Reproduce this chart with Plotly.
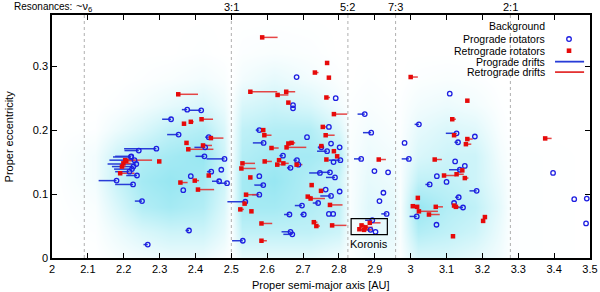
import plotly.graph_objects as go

# ---------------- data ----------------
# Resonances
res_names = ["~ν<sub>6</sub>", "3:1", "5:2", "7:3", "2:1"]
res_a = [2.09, 2.50, 2.825, 2.958, 3.278]

# Prograde rotators: proper a, proper e, drift length (AU, line extends to smaller a)
pro_a = [2.291, 2.242, 2.221, 2.220, 2.230, 2.235, 2.227, 2.223, 2.216, 2.237, 2.180, 2.226,
         2.251, 2.267, 2.366, 2.382, 2.377, 2.416, 2.332, 2.353, 2.437, 2.427, 2.425, 2.387,
         2.444, 2.472, 2.466, 2.488, 2.481,
         2.682, 2.672, 2.672, 2.772, 2.578, 2.711, 2.590, 2.751, 2.767, 2.683, 2.687, 2.665,
         2.578, 2.589, 2.747, 2.578, 2.539, 2.697, 2.742, 2.662, 2.702, 2.665, 2.670, 2.532,
         2.791, 2.778, 2.802, 2.804, 2.775, 2.789, 2.802, 2.763, 2.778, 2.772, 2.784, 2.644,
         2.785,
         2.872, 2.890, 2.862, 2.899, 2.937, 2.924, 2.913, 2.933, 2.893, 2.888, 2.902,
         2.983, 3.023, 3.109, 3.128, 3.179, 3.132, 2.995, 3.124, 3.151, 3.137, 3.073, 3.100,
         3.053, 3.184, 3.134, 3.017, 3.146, 3.072, 3.121,
         3.397, 3.456, 3.491, 3.489]
pro_e = [0.171, 0.168, 0.159, 0.158, 0.153, 0.147, 0.143, 0.139, 0.135, 0.129, 0.121, 0.115,
         0.089, 0.021, 0.106, 0.043, 0.232, 0.231, 0.217, 0.193, 0.189, 0.173, 0.159, 0.128,
         0.135, 0.138, 0.120, 0.117, 0.155,
         0.283, 0.239, 0.234, 0.205, 0.200, 0.189, 0.180, 0.173, 0.167, 0.153, 0.146, 0.141,
         0.128, 0.114, 0.133, 0.099, 0.088, 0.082, 0.086, 0.068, 0.068, 0.041, 0.037, 0.027,
         0.250, 0.179, 0.173, 0.153, 0.134, 0.126, 0.104, 0.107, 0.097, 0.069, 0.069, 0.160,
         0.150,
         0.225, 0.196, 0.155, 0.136, 0.134, 0.102, 0.089, 0.069, 0.059, 0.044, 0.041,
         0.180, 0.209, 0.257, 0.195, 0.190, 0.181, 0.155, 0.151, 0.144, 0.138, 0.128, 0.119,
         0.115, 0.105, 0.095, 0.065, 0.079, 0.052, 0.086,
         0.133, 0.092, 0.093, 0.054]
pro_drift = [0.090, 0.040, 0.045, 0.050, 0.070, 0.080, 0.060, 0.050, 0.040, 0.030, 0.050, 0.050,
             0.020, 0.012, 0.000, 0.010, 0.015, 0.035, 0.025, 0.032, 0.010, 0.030, 0.025, 0.000,
             0.012, 0.000, 0.020, 0.025, 0.050,
             0.000, 0.000, 0.000, 0.000, 0.010, 0.000, 0.030, 0.010, 0.028, 0.010, 0.000, 0.010,
             0.000, 0.025, 0.030, 0.020, 0.050, 0.020, 0.015, 0.015, 0.010, 0.025, 0.025, 0.030,
             0.000, 0.000, 0.000, 0.033, 0.030, 0.025, 0.000, 0.000, 0.030, 0.000, 0.000, 0.010,
             0.000,
             0.020, 0.023, 0.020, 0.000, 0.000, 0.000, 0.000, 0.015, 0.020, 0.035, 0.000,
             0.000, 0.012, 0.000, 0.030, 0.000, 0.010, 0.020, 0.000, 0.000, 0.030, 0.000, 0.000,
             0.012, 0.020, 0.010, 0.020, 0.015, 0.000, 0.000,
             0.000, 0.000, 0.000, 0.000]

# Retrograde rotators: proper a, proper e, drift length (AU, line extends to larger a)
ret_a = [2.199, 2.204, 2.207, 2.195, 2.190, 2.299, 2.358, 2.352, 2.368, 2.387, 2.417, 2.443,
         2.421, 2.375, 2.380, 2.398, 2.407, 2.437,
         2.586, 2.767, 2.733, 2.772, 2.553, 2.653, 2.629, 2.765, 2.659, 2.786, 2.755, 2.589,
         2.592, 2.763, 2.751, 2.612, 2.654, 2.659, 2.668, 2.531, 2.528, 2.593, 2.633, 2.645,
         2.628, 2.682, 2.765, 2.553, 2.724, 2.541, 2.537, 2.525, 2.556, 2.713, 2.721, 2.750,
         2.775, 2.730, 2.737, 2.781, 2.584, 2.584, 2.786, 2.795,
         2.911, 2.857, 2.863, 2.874, 2.886, 2.870,
         3.000, 3.158, 3.116, 3.121, 3.158, 3.154, 3.067, 3.144, 3.128, 3.093, 3.151, 3.020,
         3.006, 3.018, 3.023, 3.070, 3.121, 3.126, 3.051, 3.207, 3.202, 3.118, 3.375]
ret_e = [0.148, 0.153, 0.152, 0.143, 0.1325, 0.151, 0.118, 0.256, 0.210, 0.213, 0.217, 0.1875,
         0.176, 0.180, 0.170, 0.121, 0.107, 0.129,
         0.345, 0.305, 0.290, 0.282, 0.260, 0.260, 0.255, 0.251, 0.243, 0.225, 0.205, 0.200,
         0.192, 0.192, 0.175, 0.172, 0.173, 0.179, 0.180, 0.148, 0.140, 0.151, 0.153, 0.148,
         0.146, 0.146, 0.154, 0.126, 0.114, 0.099, 0.085, 0.076, 0.073, 0.096, 0.093, 0.105,
         0.083, 0.056, 0.050, 0.051, 0.054, 0.027, 0.167, 0.159,
         0.154, 0.045, 0.051, 0.048, 0.055, 0.044,
         0.283, 0.246, 0.217, 0.192, 0.186, 0.178, 0.154, 0.137, 0.131, 0.129, 0.125, 0.094,
         0.081, 0.080, 0.073, 0.080, 0.082, 0.080, 0.068, 0.064, 0.058, 0.034, 0.187]
ret_drift = [0.020, 0.075, 0.020, 0.010, 0.040, 0.005, 0.020, 0.055, 0.000, 0.008, 0.032, 0.035,
             0.025, 0.000, 0.070, 0.012, 0.045, 0.000,
             0.043, 0.000, 0.010, 0.000, 0.075, 0.025, 0.030, 0.010, 0.005, 0.037, 0.010, 0.000,
             0.020, 0.025, 0.000, 0.020, 0.055, 0.000, 0.010, 0.035, 0.040, 0.020, 0.000, 0.015,
             0.010, 0.016, 0.000, 0.000, 0.000, 0.035, 0.000, 0.010, 0.000, 0.010, 0.040, 0.000,
             0.035, 0.010, 0.010, 0.040, 0.030, 0.015, 0.000, 0.000,
             0.020, 0.000, 0.010, 0.020, 0.030, 0.025,
             0.020, 0.000, 0.010, 0.000, 0.015, 0.015, 0.020, 0.000, 0.020, 0.033, 0.010, 0.000,
             0.000, 0.000, 0.053, 0.020, 0.000, 0.010, 0.030, 0.000, 0.000, 0.000, 0.018]

# Background asteroid density (relative, read from the cloud)
bg_a = [2.00, 2.12, 2.18, 2.25, 2.33, 2.42, 2.48, 2.50, 2.53, 2.62, 2.72, 2.80, 2.83, 2.88,
        2.95, 2.97, 3.02, 3.10, 3.18, 3.25, 3.28, 3.50]
bg_e = [0.00, 0.04, 0.08, 0.12, 0.16, 0.20, 0.24, 0.28, 0.32, 0.38]
bg_d00 = [0, 0, 0.5, 1, 1.5, 1.5, 0.5, 0.2, 2, 2, 2, 1, 0.3, 1, 1, 0.3, 3, 3, 2, 1, 0.2, 0]
bg_d04 = [0, 0.2, 1.5, 3, 4, 4, 2, 0.3, 5, 5, 5, 4, 0.5, 2, 2, 0.5, 6, 5, 4, 1.5, 0.2, 0]
bg_d08 = [0, 0.5, 3, 6, 7, 6, 3, 0.5, 7, 7, 6, 5, 0.5, 2.5, 2, 0.5, 8, 6, 5, 2, 0.2, 0]
bg_d12 = [0, 1, 4.5, 7, 8, 7, 4, 0.5, 7, 8, 6, 4, 0.5, 2, 1.5, 0.5, 5, 5, 4, 1.5, 0.2, 0]
bg_d16 = [0, 1, 4, 6, 7, 8, 4, 0.5, 6, 7, 7, 6, 0.5, 1.5, 1, 0.5, 3, 4, 4, 1, 0.2, 0]
bg_d20 = [0, 0.2, 1.5, 3, 5, 6, 3, 0.3, 5, 6, 6, 3, 0.3, 1, 0.5, 0.3, 2, 3, 2.5, 0.5, 0, 0]
bg_d24 = [0, 0, 0.3, 1, 2, 3, 1.5, 0.2, 3, 4, 3, 1, 0.2, 0.5, 0.2, 0.2, 1, 1.5, 1, 0.2, 0, 0]
bg_d28 = [0, 0, 0, 0.2, 0.5, 1, 0.5, 0, 1, 2, 1, 0.3, 0, 0.2, 0, 0, 0.3, 0.5, 0.3, 0, 0, 0]
bg_d32 = [0, 0, 0, 0, 0, 0.2, 0, 0, 0.3, 0.5, 0.3, 0, 0, 0, 0, 0, 0, 0, 0, 0, 0, 0]
bg_d38 = [0] * 22

x_ticks = [2.0, 2.1, 2.2, 2.3, 2.4, 2.5, 2.6, 2.7, 2.8, 2.9, 3.0, 3.1, 3.2, 3.3, 3.4, 3.5]
x_ticktext = ["2", "2.1", "2.2", "2.3", "2.4", "2.5", "2.6", "2.7", "2.8", "2.9", "3", "3.1",
              "3.2", "3.3", "3.4", "3.5"]
y_ticks = [0, 0.1, 0.2, 0.3]
y_ticktext = ["0", "0.1", "0.2", "0.3"]

koronis_box = dict(a0=2.834, a1=2.935, e0=0.0366, e1=0.0616)

# ---------------- styles ----------------
FONT = "Liberation Sans, Arial, Helvetica, sans-serif"
BLUE_M = "rgb(30,30,225)"
RED_M = "rgb(230,10,10)"
BLUE_L = "rgb(40,60,215)"
RED_L = "rgb(228,50,50)"

fig = go.Figure()

bg_z = [bg_d00, bg_d04, bg_d08, bg_d12, bg_d16, bg_d20, bg_d24, bg_d28, bg_d32, bg_d38]
fig.add_trace(go.Heatmap(
    x=bg_a, y=bg_e, z=bg_z, zmin=0, zmax=10, zsmooth="best", showscale=False,
    colorscale=[[0, "rgb(255,255,255)"], [0.4, "rgb(205,244,249)"], [1, "rgb(125,224,238)"]],
    hoverinfo="skip"))

# resonance lines
for a in res_a:
    fig.add_trace(go.Scatter(x=[a, a], y=[0, 0.38], mode="lines",
                             line=dict(color="rgb(175,175,175)", width=1, dash="dot"),
                             hoverinfo="skip", showlegend=False))

# drift lines
px, py = [], []
for a, e, d in zip(pro_a, pro_e, pro_drift):
    if d > 0:
        px += [a - d, a, None]
        py += [e, e, None]
rx, ry = [], []
for a, e, d in zip(ret_a, ret_e, ret_drift):
    if d > 0:
        rx += [a, a + d, None]
        ry += [e, e, None]
fig.add_trace(go.Scatter(x=px, y=py, mode="lines", line=dict(color=BLUE_L, width=1.5),
                         showlegend=False, hoverinfo="skip"))
fig.add_trace(go.Scatter(x=rx, y=ry, mode="lines", line=dict(color=RED_L, width=1.5),
                         opacity=0.9, showlegend=False, hoverinfo="skip"))

fig.add_trace(go.Scatter(x=pro_a, y=pro_e, mode="markers",
                         marker=dict(symbol="circle-open", size=4.5, color=BLUE_M,
                                     line=dict(width=1.3, color=BLUE_M)),
                         showlegend=False))
fig.add_trace(go.Scatter(x=ret_a, y=ret_e, mode="markers",
                         marker=dict(symbol="square", size=4.5, color=RED_M, line=dict(width=0)),
                         showlegend=False))

annotations = []
shapes = []

# Resonance labels
annotations.append(dict(text="Resonances:", xref="paper", yref="paper", x=-0.075, y=1.033,
                        xanchor="left", yanchor="middle", showarrow=False,
                        font=dict(size=10, family=FONT, color="black")))
for name, a in zip(res_names, res_a):
    annotations.append(dict(text=name, xref="x", yref="paper", x=a, y=1.033,
                            xanchor="center", yanchor="middle", showarrow=False,
                            font=dict(size=11, family=FONT, color="black")))

# Axis titles
annotations.append(dict(text="Proper semi-major axis [AU]", xref="paper", yref="paper",
                        x=0.5, y=-0.112, xanchor="center", yanchor="middle", showarrow=False,
                        font=dict(size=11, family=FONT, color="black")))
annotations.append(dict(text="Proper eccentricity", xref="paper", yref="paper",
                        x=-0.08, y=0.5, xanchor="center", yanchor="middle", textangle=-90,
                        showarrow=False, font=dict(size=11, family=FONT, color="black")))

# Koronis
shapes.append(dict(type="rect", xref="x", yref="y", x0=koronis_box["a0"], x1=koronis_box["a1"],
                   y0=koronis_box["e0"], y1=koronis_box["e1"],
                   line=dict(color="black", width=1.2), layer="above"))
annotations.append(dict(text="Koronis", xref="x", yref="y",
                        x=(koronis_box["a0"] + koronis_box["a1"]) / 2, y=0.022,
                        showarrow=False, font=dict(size=11, family=FONT, color="black")))

# Custom gnuplot-style legend
leg_labels = ["Background", "Prograde rotators", "Retrograde rotators", "Prograde drifts",
              "Retrograde drifts"]
leg_y = [0.955, 0.901, 0.853, 0.808, 0.765]
for lab, yy in zip(leg_labels, leg_y):
    annotations.append(dict(text=lab, xref="paper", yref="paper", x=0.921, y=yy,
                            xanchor="right", yanchor="middle", showarrow=False,
                            font=dict(size=10.5, family=FONT, color="black")))
shapes.append(dict(type="circle", xref="paper", yref="paper", xsizemode="pixel",
                   ysizemode="pixel", xanchor=0.961, yanchor=leg_y[1],
                   x0=-2.3, x1=2.3, y0=-2.3, y1=2.3, line=dict(color=BLUE_M, width=1.3)))
shapes.append(dict(type="rect", xref="paper", yref="paper", xsizemode="pixel",
                   ysizemode="pixel", xanchor=0.961, yanchor=leg_y[2],
                   x0=-2.3, x1=2.3, y0=-2.3, y1=2.3, fillcolor=RED_M, line=dict(width=0)))
shapes.append(dict(type="line", xref="paper", yref="paper", x0=0.935, x1=0.989,
                   y0=leg_y[3], y1=leg_y[3], line=dict(color=BLUE_L, width=1.8)))
shapes.append(dict(type="line", xref="paper", yref="paper", x0=0.935, x1=0.989,
                   y0=leg_y[4], y1=leg_y[4], line=dict(color=RED_L, width=1.8)))

axis_common = dict(showline=True, linecolor="black", linewidth=1.5, mirror="allticks",
                   ticks="inside", ticklen=5, tickwidth=1, tickcolor="black",
                   showgrid=False, zeroline=False, automargin=False,
                   tickfont=dict(size=11, family=FONT, color="black"))

fig.update_layout(
    width=600, height=292,
    margin=dict(l=52, r=10, t=15, b=34, autoexpand=False),
    paper_bgcolor="white", plot_bgcolor="white",
    showlegend=False,
    font=dict(family=FONT, size=11, color="black"),
    xaxis=dict(range=[2, 3.5], tickvals=x_ticks, ticktext=x_ticktext, **axis_common),
    yaxis=dict(range=[0, 0.38], tickvals=y_ticks, ticktext=y_ticktext, **axis_common),
    annotations=annotations,
    shapes=shapes,
)

fig.write_html("out.html", config={"displayModeBar": False},
               post_script="document.body.style.margin='0';document.body.style.overflow='hidden';")
